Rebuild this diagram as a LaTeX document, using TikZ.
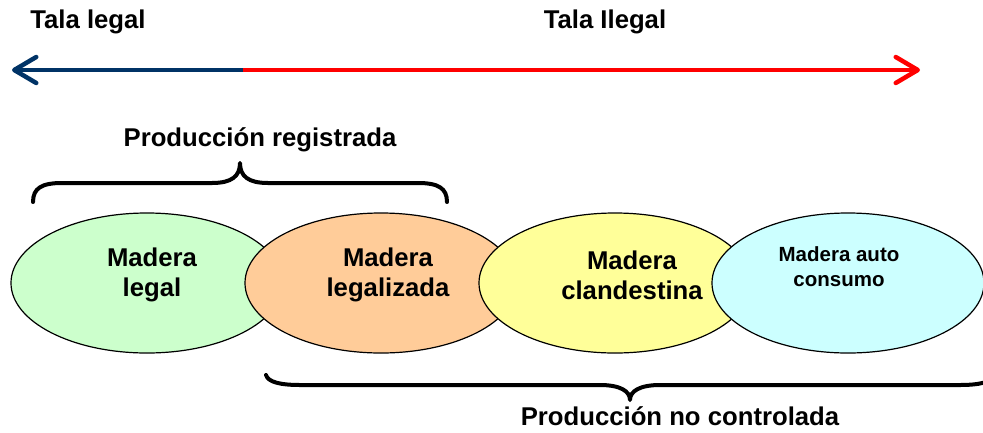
\documentclass[tikz,border=0pt]{standalone}
\usepackage{fontspec}
\setmainfont{Liberation Sans}
\usepackage{xcolor}
\usepackage{tikz}
\usetikzlibrary{shapes.geometric,arrows.meta}

\definecolor{verde}{HTML}{CCFFCC}
\definecolor{naranja}{HTML}{FFCC99}
\definecolor{amarillo}{HTML}{FFFF99}
\definecolor{celeste}{HTML}{CCFFFF}
\definecolor{azul}{HTML}{003366}
\definecolor{rojo}{HTML}{FF0000}

\begin{document}
\begin{tikzpicture}[x=1pt, y=-1pt,
    madera/.style={ellipse, draw, line width=1.2pt, minimum width=272pt, minimum height=140pt, inner sep=0pt},
    texto/.style={font=\fontsize{25.7}{30}\selectfont\bfseries, align=center, inner sep=0pt},
    textochico/.style={font=\fontsize{20.5}{25}\selectfont\bfseries, align=center, inner sep=0pt},
    llave/.style={line width=4pt, line cap=round, line join=round},
    punta/.style={-{Straight Barb[length=22pt, width=26pt, round]}, line width=4.5pt}]
    \useasboundingbox (0,0) rectangle (983,432);

    % flecha de tala
    \coordinate (izq) at (12,70);
    \coordinate (medio) at (243,70);
    \coordinate (der) at (920,70);
    \draw[punta, azul] (medio) -- (izq);
    \draw[punta, rojo] (medio) -- (der);
    \node[texto] (legal) at (88,22) {Tala legal};
    \node[texto] (ilegal) at (605,22) {Tala Ilegal};

    % elipses
    \node[madera, fill=verde] (m1) at (147,283) {};
    \node[madera, fill=naranja] (m2) at (381,283) {};
    \node[madera, fill=amarillo] (m3) at (615,283) {};
    \node[madera, fill=celeste] (m4) at (848,283) {};
    \node[texto] (t1) at (152,275) {Madera\\legal};
    \node[texto] (t2) at (388,275) {Madera\\legalizada};
    \node[texto] (t3) at (632,275) {Madera\\clandestina};
    \node[textochico] (t4) at (839,267) {Madera auto\\consumo};

    % llaves
    \draw[llave] (33,202) .. controls (33,188) and (42,183) .. (62,183) -- (212,183)
        .. controls (232,183) and (240,176) .. (240,163)
        .. controls (240,176) and (248,183) .. (268,183) -- (418,183)
        .. controls (438,183) and (447,188) .. (447,202);
    \node[texto] (registrada) at (260,140) {Producción registrada};

    \draw[llave] (266,375) .. controls (268,382) and (280,385) .. (300,385) -- (600,385)
        .. controls (620,385) and (630,391) .. (630,400)
        .. controls (630,391) and (640,385) .. (660,385) -- (960,385)
        .. controls (980,385) and (992,382) .. (994,375);
    \node[texto] (nocontrolada) at (680,416) {Producción no controlada};
\end{tikzpicture}
\end{document}
